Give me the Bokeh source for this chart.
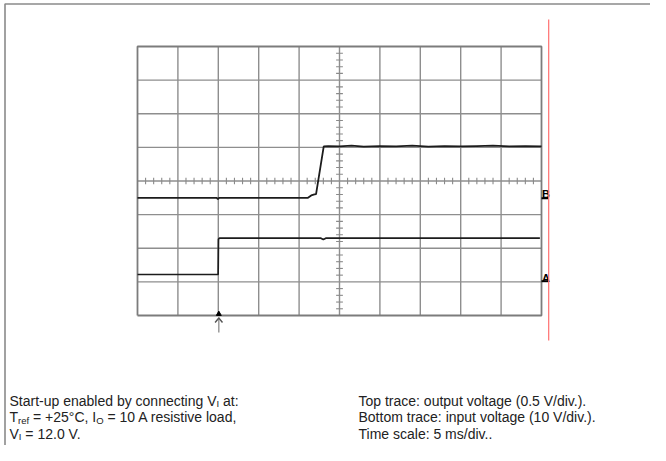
from bokeh.plotting import figure
from bokeh.models import Range1d, ColumnDataSource
from bokeh.embed import file_html
from bokeh.resources import INLINE
from bokeh.core.properties import value

# ---------------- data (time in ms, level in divisions) ----------------
top_t = [0.0, 9.8, 9.95, 10.1, 21.1, 21.5, 21.9, 22.1, 23.05, 23.6, 25.0, 26.5,
         28.0, 30.0, 32.0, 34.0, 36.0, 38.0, 40.0, 42.0, 44.0, 46.0, 48.0, 50.0]
top_v = [3.50, 3.50, 3.46, 3.50, 3.50, 3.57, 3.60, 3.61, 5.03, 5.04, 5.03, 5.05,
         5.02, 5.04, 5.03, 5.05, 5.02, 5.04, 5.03, 5.04, 5.05, 5.03, 5.04, 5.03]
bot_t = [0.0, 9.98, 10.02, 10.15, 22.7, 23.0, 23.3, 49.8]
bot_v = [1.22, 1.22, 2.27, 2.30, 2.30, 2.26, 2.30, 2.30]

n_xdiv = 10
n_ydiv = 8
ms_per_div = 5

left_lines = [
    [("Start-up enabled by connecting V", False), ("I", True), (" at:", False)],
    [("T", False), ("ref", True), (" = +25°C, I", False), ("O", True),
     (" = 10 A resistive load,", False)],
    [("V", False), ("I", True), (" = 12.0 V.", False)],
]
right_lines = [
    "Top trace: output voltage (0.5 V/div.).",
    "Bottom trace: input voltage (10 V/div.).",
    "Time scale: 5 ms/div..",
]

# ---------------- geometry (canvas px) ----------------
W, H = 650, 445
GX0, GX1 = 137.0, 541.0   # grid left/right
GY0, GY1 = 46.0, 315.0    # grid top/bottom
sx = (GX1 - GX0) / (n_xdiv * ms_per_div)
sy = (GY1 - GY0) / n_ydiv


def tx(px):
    return (px - GX0) / sx


def ty(py):
    return (GY1 - py) / sy


p = figure(width=W, height=H, output_backend="svg", toolbar_location=None,
           x_axis_location=None, y_axis_location=None, min_border=0,
           x_range=Range1d(tx(0), tx(W)), y_range=Range1d(ty(H), ty(0)))
p.grid.visible = False
p.outline_line_color = None
p.background_fill_color = "white"
p.border_fill_color = "white"

# outer frame (left and top)
p.line([tx(4.5), tx(4.5), tx(W + 20)], [ty(H + 20), ty(3.5), ty(3.5)],
       line_color="#8a8a8a", line_width=1.6)

# grid
T = n_xdiv * ms_per_div
gx = [i * ms_per_div for i in range(1, n_xdiv)]
gy = [j for j in range(1, n_ydiv)]
p.segment(x0=gx, y0=[0] * len(gx), x1=gx, y1=[n_ydiv] * len(gx),
          line_color="#8e8e8e", line_width=1.4)
p.segment(x0=[0] * len(gy), y0=gy, x1=[T] * len(gy), y1=gy,
          line_color="#8e8e8e", line_width=1.4)
p.line([0, T, T, 0, 0], [0, 0, n_ydiv, n_ydiv, 0], line_color="#7c7c7c", line_width=1.8)

# minor ticks on centre axes
cx = T / 2
cy = n_ydiv / 2
hl = 3.2 / sy
ht = [k * ms_per_div / 5 for k in range(0, n_xdiv * 5 + 1) if k % 5]
p.segment(x0=ht, y0=[cy - hl] * len(ht), x1=ht, y1=[cy + hl] * len(ht),
          line_color="#8a8a8a", line_width=1.1)
wl = 3.4 / sx
vt = [k / 5 for k in range(0, n_ydiv * 5 + 1) if k % 5]
p.segment(x0=[cx - wl] * len(vt), y0=vt, x1=[cx + wl] * len(vt), y1=vt,
          line_color="#8a8a8a", line_width=1.1)

# traces
p.line(top_t, top_v, line_color="#1c1c1c", line_width=1.8)
p.line(bot_t, bot_v, line_color="#1c1c1c", line_width=1.7)

# channel markers at right edge
p.text(x=[tx(541.5), tx(541.5)], y=[ty(193.0), ty(277.0)], text=["B", "A"],
       text_font=value("Liberation Sans"), text_font_style="bold",
       text_font_size="11px", text_color="black", text_baseline="alphabetic")
p.segment(x0=[tx(541), tx(541)], y0=[ty(197.7), ty(280.7)],
          x1=[tx(548), tx(548)], y1=[ty(197.7), ty(280.7)],
          line_color="black", line_width=2)

# red cursor line
p.line([tx(548.2), tx(548.2)], [ty(19), ty(340)], line_color="#ff6e6e", line_width=1.2)

# trigger arrow
p.scatter([tx(218.3)], [ty(313.5)], marker="triangle", size=5, color="black")
p.line([tx(218.3), tx(218.3)], [ty(317), ty(332)], line_color="#9a9a9a", line_width=1.5)
p.line([tx(214.6), tx(218.3), tx(222.0)], [ty(322), ty(317.5), ty(322)],
       line_color="#555555", line_width=1.4)

# ---------------- text ----------------
AW = {}
for ch, w in zip("abcdefghijklmnopqrstuvwxyz",
                 [556, 556, 500, 556, 556, 278, 556, 556, 222, 222, 500, 222, 833,
                  556, 556, 556, 556, 333, 500, 278, 556, 500, 722, 500, 500, 500]):
    AW[ch] = w
for ch, w in zip("ABCDEFGHIJKLMNOPQRSTUVWXYZ",
                 [667, 667, 722, 722, 667, 611, 778, 722, 278, 500, 667, 556, 833,
                  722, 778, 667, 778, 722, 667, 611, 722, 667, 944, 667, 667, 611]):
    AW[ch] = w
for ch in "0123456789":
    AW[ch] = 556
AW.update({" ": 278, ".": 278, ",": 278, ":": 278, "-": 333, "(": 333, ")": 333,
           "/": 278, "=": 584, "+": 584, "°": 400})


def tw(s, size):
    return sum(AW.get(c, 556) for c in s) * size / 1000.0


FS = 14.0
SUB = 9.5
LX, RX = 9.0, 358.0
BASE = [400.0, 416.5, 433.0]
FONT = value("Liberation Sans")

norm = dict(x=[], y=[], text=[])
subs = dict(x=[], y=[], text=[])
for line, by in zip(left_lines, BASE):
    cxp = LX
    for s, is_sub in line:
        size = SUB if is_sub else FS
        lead = len(s) - len(s.lstrip(" "))
        cxp += tw(" " * lead, size)
        s2 = s.lstrip(" ")
        d = subs if is_sub else norm
        d["x"].append(tx(cxp))
        d["y"].append(ty(by + (3.0 if is_sub else 0.0)))
        d["text"].append(s2)
        cxp += tw(s2, size)
for s, by in zip(right_lines, BASE):
    norm["x"].append(tx(RX))
    norm["y"].append(ty(by))
    norm["text"].append(s)

p.text(x="x", y="y", text="text", source=ColumnDataSource(norm), text_font=FONT,
       text_font_size=f"{FS}px", text_color="#222222", text_baseline="alphabetic")
p.text(x="x", y="y", text="text", source=ColumnDataSource(subs), text_font=FONT,
       text_font_size=f"{SUB}px", text_color="#222222", text_baseline="alphabetic")

open("out.html", "w").write(file_html(p, INLINE))
